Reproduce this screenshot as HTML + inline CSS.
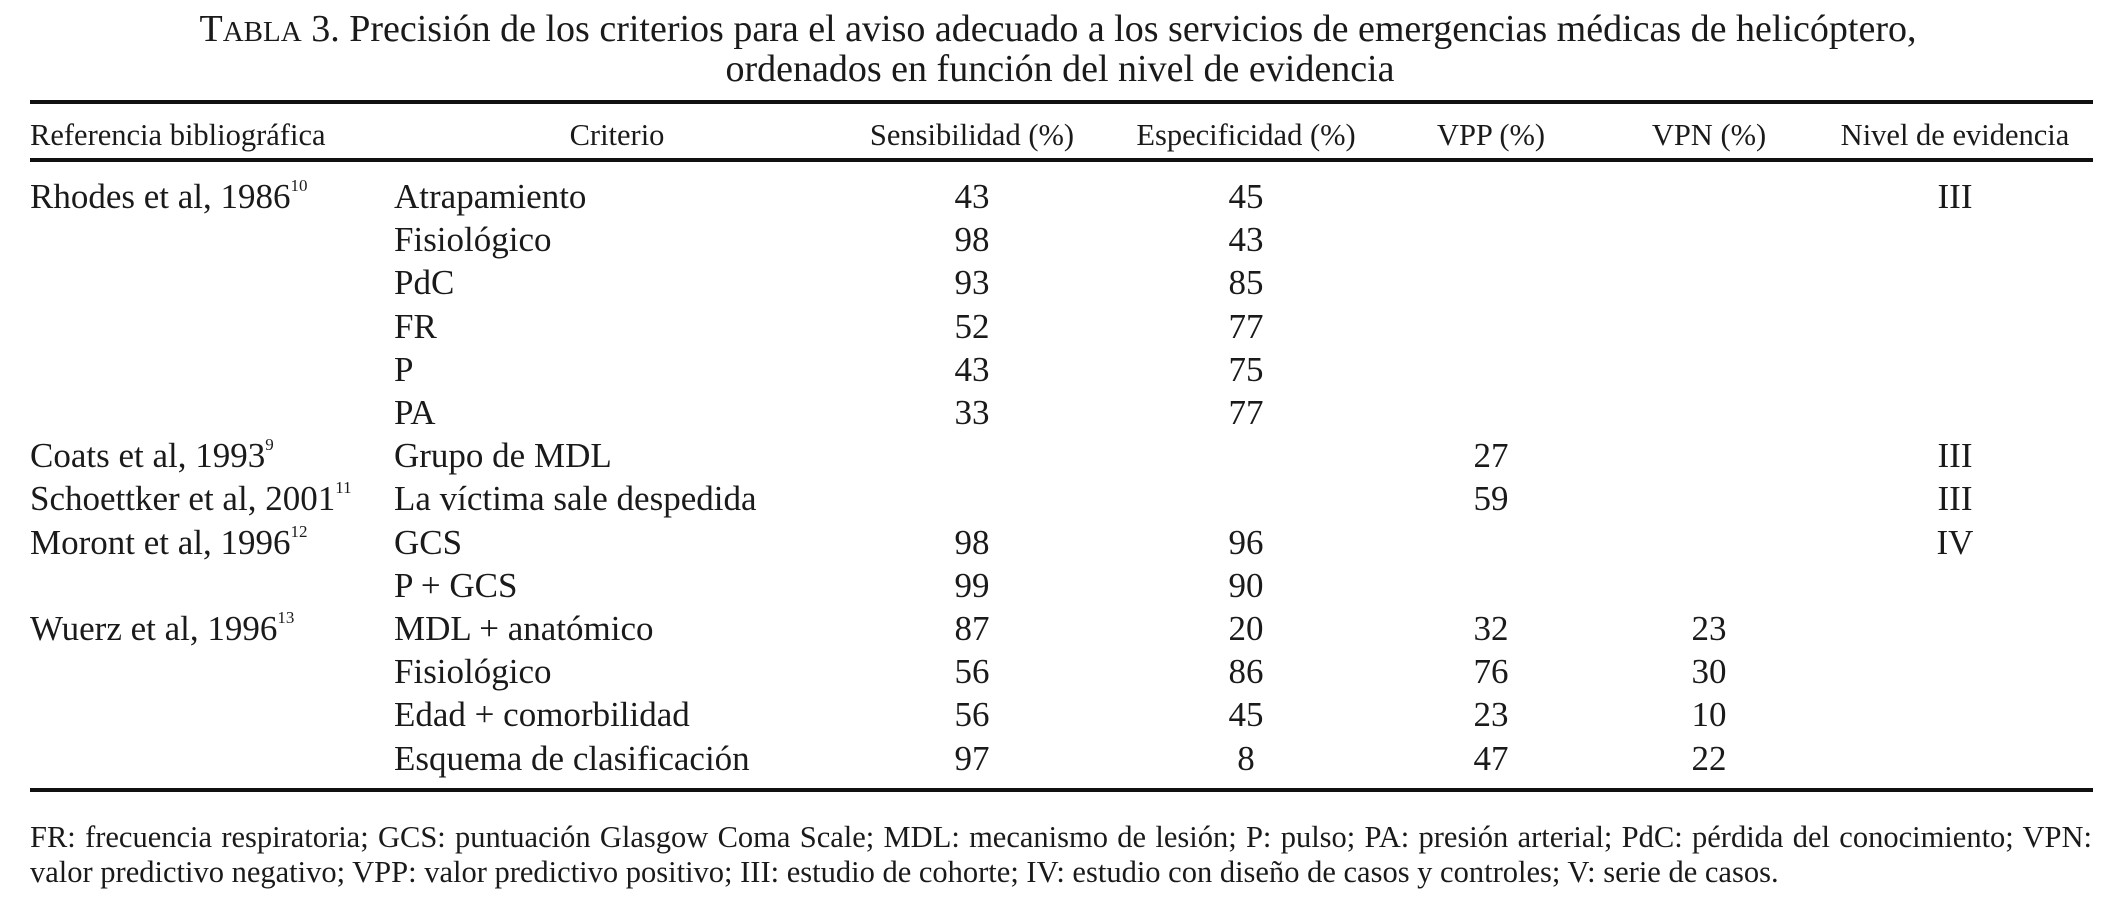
<!DOCTYPE html>
<html><head><meta charset="utf-8"><style>
html,body{margin:0;padding:0;background:#fff;}
#page{position:relative;width:2116px;height:916px;overflow:hidden;background:#fff;color:#1a1a1a;font-family:"Liberation Serif",serif;}
.t{position:absolute;white-space:nowrap;line-height:1;}
.c{transform:translateX(-50%);}
.rule{position:absolute;left:30px;width:2063px;height:4px;background:#111;}
.title{font-size:38px;}
.hd{font-size:30.5px;top:120px;}
.cell{font-size:35px;}
sup{font-size:17px;vertical-align:top;position:relative;top:-2px;}
.fn{position:absolute;left:30px;width:2062px;font-size:30.5px;line-height:1;}
</style></head><body>
<div id="page">
<div class="t title c" style="left:1058px;top:10px"><span style="font-size:38px">T</span><span style="font-size:29px">ABLA</span> 3. Precisión de los criterios para el aviso adecuado a los servicios de emergencias médicas de helicóptero,</div>
<div class="t title c" style="left:1060px;top:50px">ordenados en función del nivel de evidencia</div>
<div class="rule" style="top:100px"></div>
<div class="t hd" style="left:30px">Referencia bibliográfica</div>
<div class="t hd c" style="left:617px">Criterio</div>
<div class="t hd c" style="left:972px">Sensibilidad (%)</div>
<div class="t hd c" style="left:1246px">Especificidad (%)</div>
<div class="t hd c" style="left:1491px">VPP (%)</div>
<div class="t hd c" style="left:1709px">VPN (%)</div>
<div class="t hd c" style="left:1955px">Nivel de evidencia</div>
<div class="rule" style="top:158px"></div>
<div id="rows"></div>
<div class="rule" style="top:788px"></div>
<div class="fn" style="top:822px;text-align:justify;text-align-last:justify">FR: frecuencia respiratoria; GCS: puntuación Glasgow Coma Scale; MDL: mecanismo de lesión; P: pulso; PA: presión arterial; PdC: pérdida del conocimiento; VPN:</div>
<div class="fn" style="top:857px">valor predictivo negativo; VPP: valor predictivo positivo; III: estudio de cohorte; IV: estudio con diseño de casos y controles; V: serie de casos.</div>
</div>
<script>
const refs=["Rhodes et al, 1986|10","","","","","","Coats et al, 1993|9","Schoettker et al, 2001|11","Moront et al, 1996|12","","Wuerz et al, 1996|13","","",""];
const criterios=["Atrapamiento","Fisiológico","PdC","FR","P","PA","Grupo de MDL","La víctima sale despedida","GCS","P + GCS","MDL + anatómico","Fisiológico","Edad + comorbilidad","Esquema de clasificación"];
const sens=["43","98","93","52","43","33","","","98","99","87","56","56","97"];
const espec=["45","43","85","77","75","77","","","96","90","20","86","45","8"];
const vpp=["","","","","","","27","59","","","32","76","23","47"];
const vpn=["","","","","","","","","","","23","30","10","22"];
const nivel=["III","","","","","","III","III","IV","","","","",""];
const rows=document.getElementById('rows');
function add(txt,left,top,center,name){
  const d=document.createElement('div');
  d.className='t cell'+(center?' c':'');
  d.style.left=left+'px';d.style.top=top+'px';
  if(txt.indexOf('|')>=0){const p=txt.split('|');d.innerHTML=p[0]+'<sup>'+p[1]+'</sup>';}else d.textContent=txt;
  
  
  rows.appendChild(d);
}
for(let i=0;i<criterios.length;i++){
  const y=179+i*43.2;
  if(refs[i])add(refs[i],30,y,false,'reference-cell');
  add(criterios[i],394,y,false,'criterio-cell');
  if(sens[i])add(sens[i],972,y,true,'sensibilidad-cell');
  if(espec[i])add(espec[i],1246,y,true,'especificidad-cell');
  if(vpp[i])add(vpp[i],1491,y,true,'vpp-cell');
  if(vpn[i])add(vpn[i],1709,y,true,'vpn-cell');
  if(nivel[i])add(nivel[i],1955,y,true,'nivel-cell');
}
</script>
</body></html>
